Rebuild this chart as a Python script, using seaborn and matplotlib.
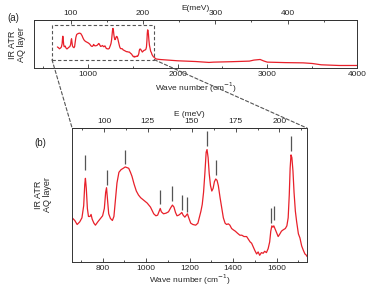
import numpy as np
import pandas as pd
import matplotlib
matplotlib.use("Agg")
import matplotlib.pyplot as plt
import seaborn as sns
from matplotlib.ticker import MultipleLocator
from matplotlib.patches import Rectangle, ConnectionPatch

# fingerprint region, arbitrary units
wn_fp = [660, 672, 683, 695, 705, 713, 718, 721, 725, 730, 735, 742, 747, 752, 760, 767,
         778, 790, 800, 808, 814, 818, 822, 828, 836, 845, 852, 858, 866, 875, 885, 895,
         904, 912, 920, 928, 935, 945, 955, 965, 975, 990, 1005, 1020, 1035, 1045, 1053,
         1060, 1065, 1070, 1080, 1092, 1103, 1113, 1121, 1128, 1135, 1142, 1150, 1158,
         1164, 1170, 1178, 1185, 1190, 1196, 1205, 1215, 1228, 1238, 1246, 1252, 1258,
         1264, 1270, 1276, 1280, 1285, 1290, 1296, 1302, 1308, 1314, 1320, 1326, 1332,
         1340, 1347, 1355, 1363, 1370, 1378, 1385, 1393, 1401, 1410, 1420, 1431, 1440,
         1450, 1462, 1470, 1478, 1485, 1493, 1500, 1508, 1515, 1522, 1530, 1538, 1545,
         1553, 1561, 1568, 1573, 1578, 1583, 1587, 1592, 1600, 1607, 1615, 1622, 1630,
         1640, 1647, 1653, 1658, 1662, 1666, 1670, 1675, 1680, 1686, 1692, 1700, 1707,
         1715, 1722, 1730, 1737, 1740]
ir_fp = [0.33, 0.31, 0.28, 0.30, 0.33, 0.42, 0.58, 0.625, 0.55, 0.40, 0.34, 0.34, 0.355,
         0.32, 0.29, 0.275, 0.30, 0.325, 0.345, 0.40, 0.52, 0.555, 0.48, 0.36, 0.325, 0.31,
         0.34, 0.45, 0.59, 0.67, 0.69, 0.70, 0.71, 0.705, 0.70, 0.67, 0.64, 0.58, 0.53,
         0.50, 0.48, 0.46, 0.44, 0.41, 0.36, 0.345, 0.35, 0.38, 0.40, 0.375, 0.36, 0.365,
         0.375, 0.405, 0.425, 0.41, 0.37, 0.345, 0.35, 0.36, 0.37, 0.35, 0.335, 0.35, 0.36,
         0.33, 0.29, 0.28, 0.275, 0.29, 0.34, 0.38, 0.43, 0.52, 0.66, 0.82, 0.84, 0.78,
         0.66, 0.57, 0.53, 0.55, 0.60, 0.62, 0.61, 0.57, 0.48, 0.41, 0.33, 0.29, 0.28,
         0.285, 0.275, 0.25, 0.24, 0.23, 0.215, 0.20, 0.20, 0.19, 0.19, 0.17, 0.15, 0.14,
         0.11, 0.085, 0.06, 0.075, 0.05, 0.07, 0.065, 0.08, 0.07, 0.10, 0.15, 0.23, 0.27,
         0.26, 0.27, 0.25, 0.22, 0.19, 0.21, 0.23, 0.24, 0.25, 0.27, 0.33, 0.50, 0.70,
         0.80, 0.78, 0.68, 0.52, 0.38, 0.30, 0.21, 0.18, 0.12, 0.09, 0.06, 0.05, 0.04]

# high wavenumber part (panel a only), same units
wn_hi = [1760, 1800, 2000, 2200, 2350, 2400, 2600, 2800, 2850, 2920, 2960, 3000,
         3200, 3400, 3500, 3600, 3800, 4000]
ir_hi = [0.0, -0.014, -0.05, -0.07, -0.095, -0.087, -0.075, -0.059, -0.031, -0.014,
         -0.055, -0.087, -0.10, -0.107, -0.124, -0.16, -0.179, -0.179]

# assigned bands (vertical markers)
peak_wn = [721, 820, 904, 1065, 1121, 1164, 1190, 1279, 1321, 1573, 1587, 1665]
peak_base = [0.69, 0.575, 0.73, 0.43, 0.455, 0.39, 0.375, 0.865, 0.65, 0.29, 0.31, 0.83]

CM_PER_MEV = 8.0655
red = "#e8202a"
grey = "#555555"

sns.set_style("ticks")
plt.rcParams["font.family"] = ["Liberation Sans", "DejaVu Sans"]
plt.rcParams["font.size"] = 6
plt.rcParams["axes.linewidth"] = 0.7
plt.rcParams["axes.edgecolor"] = "#333333"

df_b = pd.DataFrame({"wn": wn_fp, "ir": ir_fp})
df_a = pd.DataFrame({"wn": wn_fp + wn_hi, "ir": ir_fp + ir_hi})

fig = plt.figure(figsize=(3.7, 2.86), dpi=100)
ax_a = fig.add_axes([0.092, 0.762, 0.873, 0.168])
ax_b = fig.add_axes([0.195, 0.084, 0.635, 0.468])


def style(ax, major, minor, emajor, eminor, elabel, pad_bottom, pad_top):
    ax.set_yticks([])
    ax.set_ylabel("")
    ax.xaxis.set_major_locator(MultipleLocator(major))
    ax.xaxis.set_minor_locator(MultipleLocator(minor))
    ax.tick_params(which="both", direction="in", labelsize=6, pad=2, width=0.6, color="#333333")
    ax.tick_params(which="major", length=3)
    ax.tick_params(which="minor", length=1.5)
    ax.set_xlabel("Wave number (cm$^{-1}$)", fontsize=6, labelpad=pad_bottom)
    sec = ax.secondary_xaxis("top", functions=(lambda x: x / CM_PER_MEV, lambda e: e * CM_PER_MEV))
    sec.xaxis.set_major_locator(MultipleLocator(emajor))
    sec.xaxis.set_minor_locator(MultipleLocator(eminor))
    sec.tick_params(which="both", direction="in", labelsize=6, pad=2, width=0.6, color="#333333")
    sec.tick_params(which="major", length=3)
    sec.tick_params(which="minor", length=1.5)
    sec.set_xlabel(elabel, fontsize=6, labelpad=pad_top)


# panel (a): full spectrum
sns.lineplot(data=df_a, x="wn", y="ir", ax=ax_a, color=red, lw=0.9)
ax_a.set_xlim(400, 4000)
ax_a.set_ylim(-0.25, 1.07)
style(ax_a, 1000, 500, 100, 50, "E(meV)", 2, 0.5)
ax_a.add_patch(Rectangle((600, -0.02), 1140, 0.95, fill=False, ls=(0, (3, 2)),
                         ec=grey, lw=0.8))

# panel (b): zoom on fingerprint region
sns.lineplot(data=df_b, x="wn", y="ir", ax=ax_b, color=red, lw=0.9)
ax_b.vlines(peak_wn, peak_base, [b + 0.11 for b in peak_base], color=grey, lw=0.9)
ax_b.set_xlim(660, 1740)
ax_b.set_ylim(0, 1)
style(ax_b, 200, 100, 25, 12.5, "E (meV)", 0.5, 1.5)

# dashed zoom lines
for xa, xb in [(600, 0), (1740, 1)]:
    con = ConnectionPatch(xyA=(xa, -0.02), coordsA=ax_a.transData,
                          xyB=(xb, 1), coordsB=ax_b.transAxes,
                          ls=(0, (3, 2)), color=grey, lw=0.8)
    fig.add_artist(con)

fig.text(13 / 370, 1 - 18 / 286, "(a)", fontsize=7, ha="center", va="center")
fig.text(40 / 370, 1 - 143 / 286, "(b)", fontsize=7, ha="center", va="center")
fig.text(17 / 370, 1 - 45 / 286, "IR ATR\nAQ layer", fontsize=6.5, rotation=90,
         ha="center", va="center", multialignment="center", linespacing=1.1)
fig.text(43 / 370, 1 - 195 / 286, "IR ATR\nAQ layer", fontsize=6.5, rotation=90,
         ha="center", va="center", multialignment="center", linespacing=1.1)

fig.savefig("out.png", dpi=100)
